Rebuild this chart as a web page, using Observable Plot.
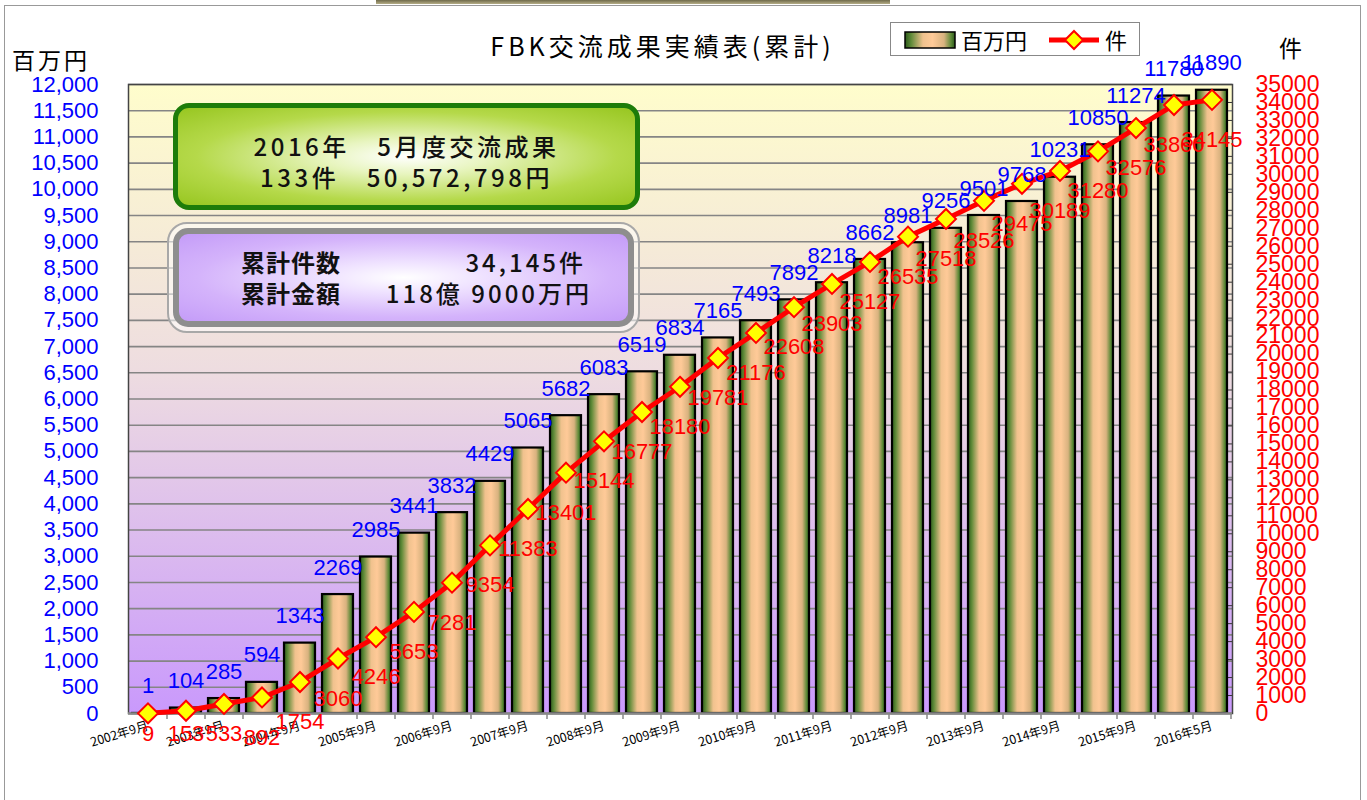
<!DOCTYPE html>
<html>
<head>
<meta charset="utf-8">
<script src="https://cdn.jsdelivr.net/npm/d3@7"></script>
<script src="https://cdn.jsdelivr.net/npm/@observablehq/plot@0.6"></script>
<style>
  html, body { margin: 0; padding: 0; background: #fff; }
  #wrap { position: relative; width: 1367px; height: 800px; overflow: hidden; font-family: "Noto Sans CJK JP", "Liberation Sans", sans-serif; }
  #chart { position: absolute; left: 0; top: 0; }
  .abs { position: absolute; }
  #frame { left: 4px; top: 5px; width: 1357px; height: 820px; border: 1px solid #999; box-sizing: border-box; }
  #topstrip { left: 376px; top: 0; width: 514px; height: 4px; background: linear-gradient(#6f6a4a, #b5ad86); }
  #title { left: 470px; top: 28px; width: 385px; text-align: center; font-size: 25px; letter-spacing: 4px; color: #000; line-height: 34px; }
  #ylabL { left: 12px; top: 44px; font-size: 23px; letter-spacing: 3px; line-height: 30px; color: #000; }
  #ylabR { left: 1279px; top: 32px; font-size: 23px; line-height: 30px; color: #000; }
  #legend { left: 890px; top: 22px; width: 250px; height: 34px; border: 1px solid #888; background: #fff; box-sizing: border-box; }
  #legend span { position: absolute; font-size: 22px; line-height: 32px; top: 0; }
  #box1 { left: 173px; top: 103px; width: 467px; height: 107px; border: 5px solid #1d7c0a; border-radius: 16px; box-sizing: border-box;
          background: radial-gradient(ellipse at center, #ffffff 0%, #e8f5c0 25%, #b5d94a 65%, #97c620 100%); text-align: center; }
  #box1 div { font-size: 24px; letter-spacing: 3.5px; line-height: 31px; color: #111; font-weight: 500; }
  #box2o { left: 167px; top: 222px; width: 473px; height: 111px; border: 2px solid #a8a8a8; border-radius: 20px; box-sizing: border-box; background: rgba(255,255,255,0.55); }
  #box2 { left: 173px; top: 228px; width: 461px; height: 99px; border: 6px solid #8e8e8e; border-radius: 15px; box-sizing: border-box;
          background: radial-gradient(ellipse at center, #ffffff 0%, #efe2ff 25%, #d4b3fb 65%, #c49cf8 100%); }
  #box2 div { position: absolute; font-size: 24px; line-height: 30px; color: #111; white-space: nowrap; }
  #box2 .k { font-weight: 700; letter-spacing: 1px; }
  #box2 .v { letter-spacing: 3px; font-weight: 500; }
</style>
</head>
<body>
<svg width="0" height="0" style="position:absolute">
  <defs>
    <linearGradient id="barGrad" x1="0" x2="1" y1="0" y2="0">
      <stop offset="0" stop-color="#2b581a"/>
      <stop offset="0.12" stop-color="#5e8a38"/>
      <stop offset="0.36" stop-color="#f0c28e"/>
      <stop offset="0.55" stop-color="#ffca98"/>
      <stop offset="0.78" stop-color="#d8b27f"/>
      <stop offset="0.92" stop-color="#5e8a38"/>
      <stop offset="1" stop-color="#2b581a"/>
    </linearGradient>
    <linearGradient id="bgGrad" x1="0" x2="0" y1="0" y2="1">
      <stop offset="0" stop-color="#fffdcc"/>
      <stop offset="0.45" stop-color="#eedde0"/>
      <stop offset="1" stop-color="#c999fc"/>
    </linearGradient>
  </defs>
</svg>
<div id="wrap">
  <div id="chart"></div>
  <div class="abs" id="frame"></div>
  <div class="abs" id="topstrip"></div>
  <div class="abs" id="title">FBK交流成果実績表(累計)</div>
  <div class="abs" id="ylabL">百万円</div>
  <div class="abs" id="ylabR">件</div>
  <div class="abs" id="legend">
    <svg width="250" height="34" style="position:absolute;left:0;top:0">
      <rect x="14" y="9" width="50" height="16" fill="url(#barGrad)" stroke="#000" stroke-width="1.5"/>
      <line x1="158" x2="208" y1="17" y2="17" stroke="red" stroke-width="5"/>
      <path d="M183,8 L192,17 L183,26 L174,17 Z" fill="yellow" stroke="red" stroke-width="2"/>
    </svg>
    <span style="left:70px">百万円</span>
    <span style="left:214px">件</span>
  </div>
  <div class="abs" id="box1">
    <div style="margin-top:22px">2016年　5月度交流成果</div>
    <div>133件　50,572,798円</div>
  </div>
  <div class="abs" id="box2o"></div>
  <div class="abs" id="box2">
    <div class="k" style="left:62px;top:13px">累計件数</div>
    <div class="v" style="right:42px;top:13px">34,145件</div>
    <div class="k" style="left:62px;top:44px">累計金額</div>
    <div class="v" style="right:36px;top:44px">118億 9000万円</div>
  </div>
</div>
<script>
// ---- data ----
const periods = [
  "2002年9月","2003年3月","2003年9月","2004年3月","2004年9月","2005年3月","2005年9月",
  "2006年3月","2006年9月","2007年3月","2007年9月","2008年3月","2008年9月","2009年3月",
  "2009年9月","2010年3月","2010年9月","2011年3月","2011年9月","2012年3月","2012年9月",
  "2013年3月","2013年9月","2014年3月","2014年9月","2015年3月","2015年9月","2016年3月","2016年5月"
];
const amounts = [1,104,285,594,1343,2269,2985,3441,3832,4429,5065,5682,6083,6519,6834,7165,7493,7892,8218,8662,8981,9256,9501,9768,10231,10850,11274,11780,11890];
const counts  = [9,153,533,892,1754,3060,4246,5653,7281,9354,11383,13401,15144,16777,18180,19781,21176,22608,23903,25127,26535,27518,28526,29475,30189,31280,32576,33860,34145];
const shownPeriods = periods.filter((d, i) => i % 2 === 0);
const leftTicks = d3.range(0, 12001, 500);
const rightTicks = d3.range(0, 35001, 1000);

const data = periods.map((p, i) => ({period: p, amount: amounts[i], count: counts[i], i}));
const toY = d3.scaleLinear([0, 35000], [0, 12000]);

const W = 1367, H = 800, mL = 128, mR = 135, mT = 84, mB = 87;
const plotW = W - mL - mR;

const chart = Plot.plot({
  width: W, height: H,
  marginLeft: mL, marginRight: mR, marginTop: mT, marginBottom: mB,
  style: {fontFamily: "'Liberation Sans', Arial, sans-serif", background: "transparent", overflow: "visible"},
  x: {domain: periods, paddingInner: 0.18, paddingOuter: 0.09, label: null},
  y: {domain: [0, 12000], nice: false, label: null},
  marks: [
    Plot.frame({fill: "url(#bgGrad)", stroke: null}),
    Plot.gridY(leftTicks.filter(d => d > 0), {stroke: "#858585", strokeOpacity: 1, strokeWidth: 1.6}),
    Plot.ruleY(rightTicks.map(toY), {insetLeft: plotW - 6, stroke: "#333", strokeWidth: 1}),
    Plot.barY(data, {x: "period", y: "amount", fill: "url(#barGrad)", stroke: "#000", strokeWidth: 2.2}),
    Plot.frame({stroke: "#444", strokeWidth: 1.5}),
    Plot.ruleY([0], {stroke: "#888", strokeWidth: 2.5}),
    Plot.axisY(leftTicks, {anchor: "left", label: null, tickSize: 0, tickPadding: 30, tickFormat: d3.format(","), fontSize: 22, color: "#0000ff"}),
    Plot.axisY(rightTicks.map(toY), {anchor: "right", label: null, tickSize: 0, tickPadding: 23,
      tickFormat: d => String(Math.round(toY.invert(d))), fontSize: 23, color: "#ff0000"}),
    Plot.axisX(periods, {label: null, tickSize: 6, tickFormat: () => "", dx: 19, stroke: "#888", strokeWidth: 1.5}),
    Plot.axisX(shownPeriods, {label: null, tickSize: 0, tickPadding: 12, tickRotate: -17, fontSize: 12.5, color: "#000",
      fontFamily: "'Noto Sans CJK JP', sans-serif"}),
    Plot.line(data, {x: "period", y: d => toY(d.count), stroke: "#ff0000", strokeWidth: 5}),
    Plot.dot(data, {x: "period", y: d => toY(d.count), symbol: "diamond2", r: 9, fill: "#ffff00", stroke: "#ff0000", strokeWidth: 2}),
    Plot.text(data, {x: "period", y: "amount", text: d => String(d.amount), dy: -27, fill: "#0000ff", fontSize: 22}),
    Plot.text(data, {filter: d => d.i >= 3, x: "period", y: d => toY(d.count), text: d => String(d.count), dy: 40, fill: "#ff0000", fontSize: 22}),
    Plot.text(data, {filter: d => d.i < 3, x: "period", y: 0, text: d => String(d.count), dy: 20, fill: "#ff0000", fontSize: 22})
  ]
});
document.getElementById("chart").appendChild(chart);
</script>
</body>
</html>
